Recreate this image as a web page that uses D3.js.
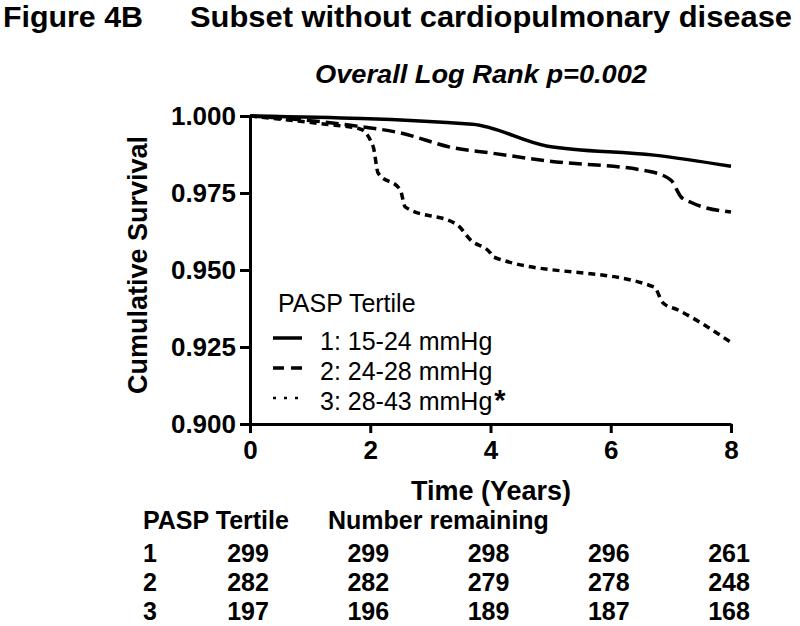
<!doctype html>
<html lang="en">
  <head>
    <meta charset="utf-8">
    <title>Figure 4B survival</title>
    <script src="https://d3js.org/d3.v7.min.js"></script>
    <style>
      body {
        margin: 0;
        background: #fff;
        font-family: 'Liberation Sans', Arial, sans-serif;
      }
    </style>
  </head>
  <body>
    <div id="root"></div>
  </body>
  <script>

    //data:
    const times1 = [0, 3.7, 4.95, 6.72, 8];
    const surv1 = [1.000, 0.9973, 0.9902, 0.9873, 0.9837];

    const times2 = [0, 1.0, 1.67, 2.5, 3.4, 4.0, 4.95, 6.62, 7.0, 7.17, 7.33, 8];
    const surv2 = [1.000, 0.9985, 0.997, 0.9945, 0.9896, 0.988, 0.9854, 0.9821, 0.9792, 0.9737, 0.972, 0.9688];

    const times3 = [0, 1.22, 1.83, 2.05, 2.13, 2.5, 2.58, 3.45, 3.67, 4.0, 4.05, 6.72, 6.87, 7.12, 8];
    const surv3 = [1.000, 0.9974, 0.9958, 0.990, 0.9815, 0.976, 0.9705, 0.9646, 0.9597, 0.9555, 0.9542, 0.9445, 0.9393, 0.937, 0.9265];

    const legendLabels = ["1: 15-24 mmHg", "2: 24-28 mmHg", "3: 28-43 mmHg"];
    const yTicks = [0.900, 0.925, 0.950, 0.975, 1.000];
    const xTicks = [0, 2, 4, 6, 8];

    const tableTimes = [0, 2, 4, 6, 8];
    const tertiles = ["1", "2", "3"];
    const remaining1 = [299, 299, 298, 296, 261];
    const remaining2 = [282, 282, 279, 278, 248];
    const remaining3 = [197, 196, 189, 187, 168];

    const width = 800;
    const height = 626;

    const svg = d3.select("#root")
      .append("svg")
      .attr("width", width)
      .attr("height", height);

    //scales:
    const x = d3.scaleLinear().domain([0, 8]).range([250, 731]);
    const y = d3.scaleLinear().domain([0.9, 1.0]).range([424, 116]);

    //titles:
    svg.append("text")
      .attr("x", 3).attr("y", 27)
      .attr("font-size", "29px").attr("font-weight", "bold")
      .attr("textLength", 140).attr("lengthAdjust", "spacingAndGlyphs")
      .text("Figure 4B");

    svg.append("text")
      .attr("x", 190).attr("y", 27)
      .attr("font-size", "29px").attr("font-weight", "bold")
      .attr("textLength", 602).attr("lengthAdjust", "spacingAndGlyphs")
      .text("Subset without cardiopulmonary disease");

    svg.append("text")
      .attr("x", 315).attr("y", 83)
      .attr("font-size", "26px").attr("font-weight", "bold").attr("font-style", "italic")
      .attr("textLength", 332).attr("lengthAdjust", "spacingAndGlyphs")
      .text("Overall Log Rank p=0.002");

    //axes:
    const yAxis = svg.append("g")
      .attr("transform", "translate(250,0)")
      .call(d3.axisLeft(y).tickValues(yTicks).tickFormat(d3.format(".3f"))
        .tickSize(10).tickSizeOuter(0).tickPadding(4));

    const xAxis = svg.append("g")
      .attr("transform", "translate(0,424)")
      .call(d3.axisBottom(x).tickValues(xTicks).tickFormat(d3.format("d"))
        .tickSize(9).tickSizeOuter(0).tickPadding(8));

    [yAxis, xAxis].forEach(function(g) {
      g.select(".domain").attr("stroke-width", 3).attr("stroke", "#000");
      g.selectAll(".tick line").attr("stroke-width", 3).attr("stroke", "#000");
      g.selectAll(".tick text")
        .attr("font-family", "'Liberation Sans', Arial, sans-serif")
        .attr("font-size", "26px").attr("font-weight", "bold").attr("fill", "#000");
    });

    svg.append("text")
      .attr("transform", "translate(147,265) rotate(-90)")
      .attr("text-anchor", "middle")
      .attr("font-size", "27px").attr("font-weight", "bold")
      .text("Cumulative Survival");

    svg.append("text")
      .attr("x", 491).attr("y", 500)
      .attr("text-anchor", "middle")
      .attr("font-size", "27px").attr("font-weight", "bold")
      .text("Time (Years)");

    //curves:
    const series = [
      {t: times1, s: surv1, dash: null},
      {t: times2, s: surv2, dash: "13,6"},
      {t: times3, s: surv3, dash: "7,5"}
    ];

    const line = d3.line()
      .x(function(d) { return x(d[0]); })
      .y(function(d) { return y(d[1]); })
      .curve(d3.curveMonotoneX);

    svg.selectAll("path.curve")
      .data(series)
      .enter()
      .append("path")
      .attr("class", "curve")
      .attr("d", function(d) { return line(d3.zip(d.t, d.s)); })
      .attr("fill", "none")
      .attr("stroke", "#000")
      .attr("stroke-width", 3.5)
      .attr("stroke-dasharray", function(d) { return d.dash; });

    //legend:
    svg.append("text")
      .attr("x", 278).attr("y", 312)
      .attr("font-size", "25px")
      .text("PASP Tertile");

    const legendDash = [null, "11,7", "3,8"];
    const legend = svg.selectAll("g.legend")
      .data(legendLabels)
      .enter()
      .append("g")
      .attr("class", "legend")
      .attr("transform", function(d, i) { return `translate(0,${350 + i * 30})`; });

    legend.append("line")
      .attr("x1", 273).attr("x2", 302)
      .attr("y1", -12).attr("y2", -12)
      .attr("stroke", "#000")
      .attr("stroke-width", function(d, i) { return i === 2 ? 2.5 : 3.5; })
      .attr("stroke-dasharray", function(d, i) { return legendDash[i]; });

    legend.append("text")
      .attr("x", 320)
      .attr("font-size", "25px")
      .text(function(d) { return d; })
      .filter(function(d, i) { return i === 2; })
      .append("tspan")
      .attr("dx", 2)
      .attr("dy", 0)
      .attr("font-weight", "bold")
      .attr("font-size", "29px")
      .text("*");

    //number at risk table:
    svg.append("text")
      .attr("x", 143).attr("y", 529)
      .attr("font-size", "25px").attr("font-weight", "bold")
      .text("PASP Tertile");

    svg.append("text")
      .attr("x", 328).attr("y", 529)
      .attr("font-size", "25px").attr("font-weight", "bold")
      .text("Number remaining");

    const rows = [remaining1, remaining2, remaining3];
    const rowY = [562, 591, 620];

    const row = svg.selectAll("g.row")
      .data(rows)
      .enter()
      .append("g")
      .attr("class", "row")
      .attr("transform", function(d, i) { return `translate(0,${rowY[i]})`; });

    row.append("text")
      .attr("x", 143)
      .attr("font-size", "25px").attr("font-weight", "bold")
      .text(function(d, i) { return tertiles[i]; });

    row.selectAll("text.count")
      .data(function(d) { return d; })
      .enter()
      .append("text")
      .attr("class", "count")
      .attr("x", function(d, j) { return x(tableTimes[j]) - 2; })
      .attr("text-anchor", "middle")
      .attr("font-size", "25px").attr("font-weight", "bold")
      .text(function(d) { return d; });

  </script>
</html>
